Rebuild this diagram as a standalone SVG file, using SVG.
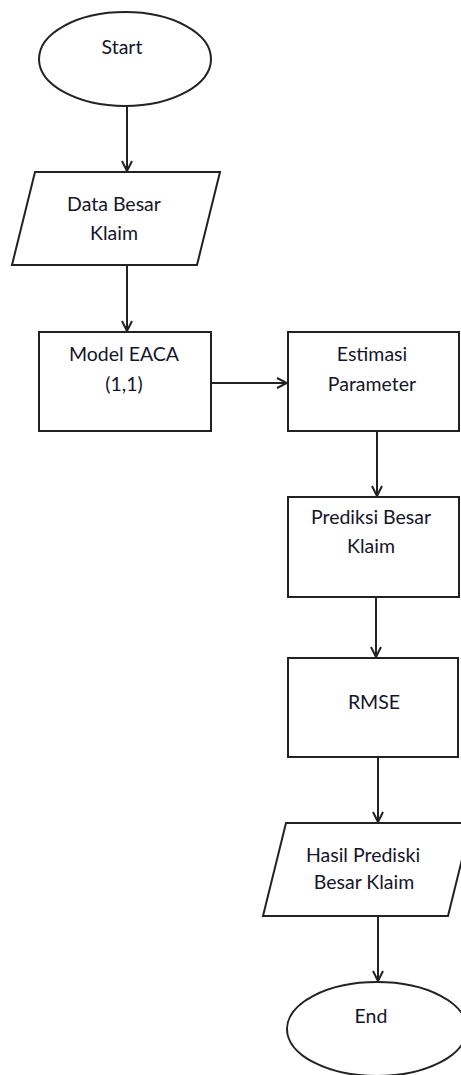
<svg xmlns="http://www.w3.org/2000/svg" width="461" height="1075" viewBox="0 0 461 1075">
<style>
.s{fill:#fff;stroke:#222;stroke-width:2}
.t{font-family:Lato,"Open Sans","Liberation Sans",sans-serif;font-size:19.5px;fill:#15152a;text-anchor:middle}
.c{fill:none;stroke:#222;stroke-width:2}
</style>
<defs>
<marker id="a" viewBox="0 0 12 12" refX="11" refY="6" markerWidth="12" markerHeight="12" markerUnits="userSpaceOnUse" orient="auto">
<path d="M1,1 L11,6 L1,11" fill="none" stroke="#222" stroke-width="2"/>
</marker>
</defs>
<rect width="461" height="1075" fill="#fff"/>
<g id="connectors">
<path class="c" d="M127,107 V171" marker-end="url(#a)"/>
<path class="c" d="M127,265 V331" marker-end="url(#a)"/>
<path class="c" d="M211,383 H287" marker-end="url(#a)"/>
<path class="c" d="M377,431 V496" marker-end="url(#a)"/>
<path class="c" d="M376,597 V657" marker-end="url(#a)"/>
<path class="c" d="M378,757 V822" marker-end="url(#a)"/>
<path class="c" d="M378,916 V981" marker-end="url(#a)"/>
</g>
<g id="start">
<ellipse class="s" cx="125" cy="59" rx="86" ry="47"/>
<text class="t" x="122" y="54">Start</text>
</g>
<g id="data">
<polygon class="s" points="35,172 220,172 197,265 12,265"/>
<text class="t" x="114" y="211">Data Besar</text>
<text class="t" x="114" y="240">Klaim</text>
</g>
<g id="model">
<rect class="s" x="39" y="332" width="172" height="99"/>
<text class="t" x="124" y="361">Model EACA</text>
<text class="t" x="124" y="391">(1,1)</text>
</g>
<g id="estimasi">
<rect class="s" x="288" y="332" width="171" height="99"/>
<text class="t" x="372" y="361">Estimasi</text>
<text class="t" x="372" y="391">Parameter</text>
</g>
<g id="prediksi">
<rect class="s" x="288" y="497" width="171" height="100"/>
<text class="t" x="371" y="524">Prediksi Besar</text>
<text class="t" x="371" y="553">Klaim</text>
</g>
<g id="rmse">
<rect class="s" x="288" y="658" width="170" height="99"/>
<text class="t" x="374" y="709">RMSE</text>
</g>
<g id="hasil">
<polygon class="s" points="286,823 471,823 448,916 263,916"/>
<text class="t" x="363" y="862">Hasil Prediski</text>
<text class="t" x="364" y="889">Besar Klaim</text>
</g>
<g id="end">
<ellipse class="s" cx="377" cy="1029" rx="90" ry="47"/>
<text class="t" x="371" y="1023">End</text>
</g>
</svg>
